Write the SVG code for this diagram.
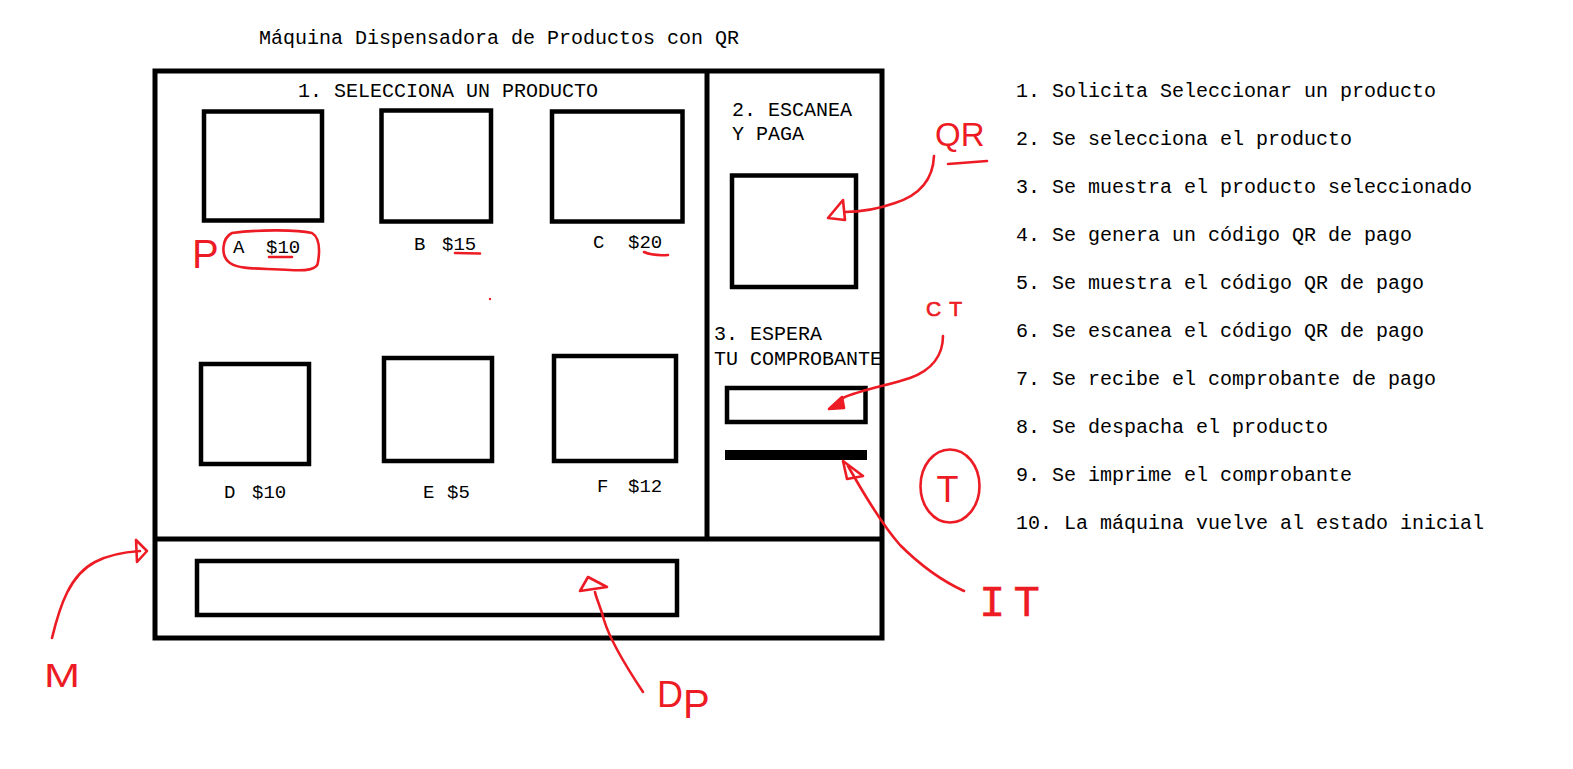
<svg xmlns="http://www.w3.org/2000/svg" width="1573" height="769" viewBox="0 0 1573 769">
<style>
.frame{fill:none;stroke:#000;stroke-width:5}
.box{fill:none;stroke:#000;stroke-width:4.5}
.mono{font-family:"Liberation Mono","DejaVu Sans Mono",monospace;font-size:20px;fill:#000}
.price{font-family:"Liberation Mono","DejaVu Sans Mono",monospace;font-size:19px;fill:#000}
.red{fill:none;stroke:#ED1C24;stroke-width:2.6;stroke-linecap:round;stroke-linejoin:round}
.redfill{fill:#ED1C24;stroke:#ED1C24;stroke-width:2.6;stroke-linejoin:round}
.rt{font-family:"Liberation Sans",Arial,sans-serif;fill:#ED1C24}
.rtm{font-family:"Liberation Mono","DejaVu Sans Mono",monospace;fill:#ED1C24;stroke:#ED1C24;stroke-width:0.4}
</style>
<rect width="1573" height="769" fill="#fff"/>
<text id="title" class="mono" x="259" y="44">Máquina Dispensadora de Productos con QR</text>
<g id="machine">
<rect class="frame" x="155" y="71" width="727" height="567"/>
<line class="frame" x1="155" y1="539" x2="882" y2="539"/>
<line class="frame" x1="707" y1="71" x2="707" y2="539"/>
</g>
<g id="selection">
<text class="mono" x="298" y="97">1. SELECCIONA UN PRODUCTO</text>
</g>
<g id="product-a"><rect class="box" x="204" y="111.5" width="118" height="109"/><text class="price" x="233" y="253">A<tspan x="266">$10</tspan></text></g>
<g id="product-b"><rect class="box" x="381.5" y="110.5" width="109.5" height="111"/><text class="price" x="414" y="250">B<tspan x="442">$15</tspan></text></g>
<g id="product-c"><rect class="box" x="552" y="111.5" width="130.5" height="110"/><text class="price" x="593" y="248">C<tspan x="628">$20</tspan></text></g>
<g id="product-d"><rect class="box" x="201" y="364" width="108" height="100"/><text class="price" x="224" y="498">D<tspan x="252">$10</tspan></text></g>
<g id="product-e"><rect class="box" x="384" y="358" width="108" height="103"/><text class="price" x="423" y="498">E<tspan x="447">$5</tspan></text></g>
<g id="product-f"><rect class="box" x="554" y="356" width="122" height="105"/><text class="price" x="597" y="492">F<tspan x="628">$12</tspan></text></g>
<g id="pay-panel">
<text class="mono" x="732" y="116">2. ESCANEA</text>
<text class="mono" x="732" y="140">Y PAGA</text>
<rect id="qr-screen" class="box" x="732" y="175.5" width="124" height="111.5"/>
<text class="mono" x="714" y="340">3. ESPERA</text>
<text class="mono" x="714" y="365">TU COMPROBANTE</text>
<rect id="receipt-screen" class="box" x="727" y="388" width="138.5" height="34"/>
<rect id="ticket-slot" x="725" y="450" width="142" height="10" fill="#000"/>
</g>
<g id="dispenser">
<rect class="box" x="197" y="561" width="480" height="54"/>
</g>
<g id="steps" class="mono">
<text x="1016" y="97">1. Solicita Seleccionar un producto</text>
<text x="1016" y="145">2. Se selecciona el producto</text>
<text x="1016" y="193">3. Se muestra el producto seleccionado</text>
<text x="1016" y="241">4. Se genera un código QR de pago</text>
<text x="1016" y="289">5. Se muestra el código QR de pago</text>
<text x="1016" y="337">6. Se escanea el código QR de pago</text>
<text x="1016" y="385">7. Se recibe el comprobante de pago</text>
<text x="1016" y="433">8. Se despacha el producto</text>
<text x="1016" y="481">9. Se imprime el comprobante</text>
<text x="1016" y="529">10. La máquina vuelve al estado inicial</text>
</g>
<g id="annotations">
<text class="rt" x="192" y="268" font-size="40">P</text>
<path class="red" d="M232,233 C222,238 220,256 230,263 C240,270 260,268 290,270 C305,271 318,270 318,262 C320,250 320,238 312,233 C295,229 255,230 232,233"/>
<path class="red" d="M269,257 L292,257"/>
<path class="red" d="M455,253 L480,253.5"/>
<path class="red" d="M644,252 Q652,256 668,255"/>
<circle cx="490" cy="299" r="1.2" fill="#ED1C24"/>
<text class="rt" x="935" y="146" font-size="33">QR</text>
<path class="red" d="M948,164 L987,161"/>
<text class="rt" x="926" y="316" font-size="21" letter-spacing="8" stroke="#ED1C24" stroke-width="0.7">CT</text>
<ellipse class="red" cx="950" cy="486" rx="29.5" ry="36.5"/>
<text class="rt" x="947.5" y="502" font-size="36" text-anchor="middle">T</text>
<text class="rtm" x="979" y="616" font-size="44" letter-spacing="8">IT</text>
<text class="rt" x="44" y="687" font-size="33" textLength="36" lengthAdjust="spacingAndGlyphs">M</text>
<text class="rt" x="657" y="707" font-size="36">D<tspan y="718" font-size="40">P</tspan></text>
</g>
<g id="connectors">
<path class="red" d="M934,156 C933,180 920,195 895,203 C875,210 860,212 845,212"/>
<path class="red" d="M843,200 L828,218 L845,220 Z"/>
<path class="red" d="M943,336 C943,355 932,370 910,378 C890,385 860,390 843,398"/>
<path class="redfill" d="M842,397 L829,409 L844,408 Z"/>
<path class="red" d="M848,466 C870,505 885,528 900,545 C920,565 940,580 964,591"/>
<path class="red" d="M843,461 L847,479 L863,476 Z"/>
<path class="red" d="M52,638 C60,605 70,575 95,562 C110,554 125,552 140,551"/>
<path class="red" d="M136,540 L137,562 L147,551 Z"/>
<path class="red" d="M643,692 C625,665 610,640 604,620 C600,605 596,598 595,592"/>
<path class="red" d="M588,577 L607,587 L580,591 Z"/>
</g>
</svg>
